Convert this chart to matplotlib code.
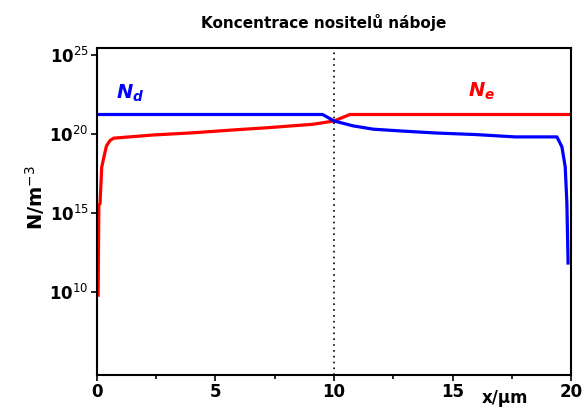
import numpy as np
import matplotlib.pyplot as plt
from matplotlib.ticker import FixedLocator, FuncFormatter

plt.rcParams["mathtext.fontset"] = "custom"
plt.rcParams["mathtext.it"] = "DejaVu Sans:italic:bold"
plt.rcParams["mathtext.bf"] = "DejaVu Sans:bold"
plt.rcParams["mathtext.rm"] = "DejaVu Sans"

# N_d (blue): x in um, log10 of N in m^-3
nd_x = [0.0, 9.52, 10.0, 10.8, 11.65, 12.78, 14.26, 15.95, 17.64, 19.40,
        19.61, 19.75, 19.82, 19.87]
nd_log = [21.25, 21.25, 20.84, 20.53, 20.32, 20.21, 20.08, 19.98, 19.83, 19.83,
          19.2, 17.93, 15.63, 11.84]

# N_e (red)
ne_x = [0.05, 0.08, 0.13, 0.2, 0.3, 0.4, 0.55, 0.7, 2.36, 4.05, 5.74, 7.17,
        9.11, 10.0, 10.67, 20.0]
ne_log = [9.8, 15.5, 15.6, 17.9, 18.6, 19.25, 19.6, 19.75, 19.95, 20.09, 20.27,
          20.41, 20.63, 20.84, 21.25, 21.25]

x_ticks = [0, 5, 10, 15, 20]
y_ticks = [10, 15, 20, 25]

fig = plt.figure(figsize=(5.84, 4.12), dpi=100)
ax = fig.add_axes([0.166, 0.090, 0.812, 0.793])

ax.plot(ne_x, 10.0 ** np.array(ne_log), color="#ff0000", lw=2.3)
ax.plot(nd_x, 10.0 ** np.array(nd_log), color="#0000ff", lw=2.3)
ax.axvline(10, color="black", lw=1.2, ls=(0, (1, 2.5)))

ax.set_yscale("log")
ax.set_xlim(0, 20)
ax.set_ylim(10 ** 4.75, 10 ** 25.45)

ax.xaxis.set_major_locator(FixedLocator(x_ticks))
ax.xaxis.set_minor_locator(FixedLocator([2.5, 7.5, 12.5, 17.5]))
ax.yaxis.set_major_locator(FixedLocator([10.0 ** k for k in y_ticks]))
ax.yaxis.set_minor_locator(FixedLocator([]))
ax.yaxis.set_major_formatter(FuncFormatter(lambda v, p: r"$\mathbf{10}^{%d}$" % round(np.log10(v))))
ax.set_xticklabels([str(t) for t in x_ticks], fontweight="bold")

ax.tick_params(axis="both", which="major", length=4, width=1.2, labelsize=12, pad=2)
ax.tick_params(axis="x", which="minor", length=3, width=1.2)
for s in ax.spines.values():
    s.set_linewidth(1.5)

fig.text(0.555, 0.945, "Koncentrace nositelů náboje", ha="center", va="center",
         fontsize=11, fontweight="bold")
fig.text(0.06, 0.52, r"$\mathbf{N/m}^{-3}$", rotation=90, ha="center", va="center",
         fontsize=14)
fig.text(0.865, 0.035, "x/μm", ha="center", va="center", fontsize=12,
         fontweight="bold")

ax.text(1.4, 10 ** 22.6, r"$N_d$", color="#0000ff", fontsize=14,
        ha="center", va="center")
ax.text(16.2, 10 ** 22.7, r"$N_e$", color="#ff0000", fontsize=14,
        ha="center", va="center")

fig.savefig("out.png", dpi=100)
